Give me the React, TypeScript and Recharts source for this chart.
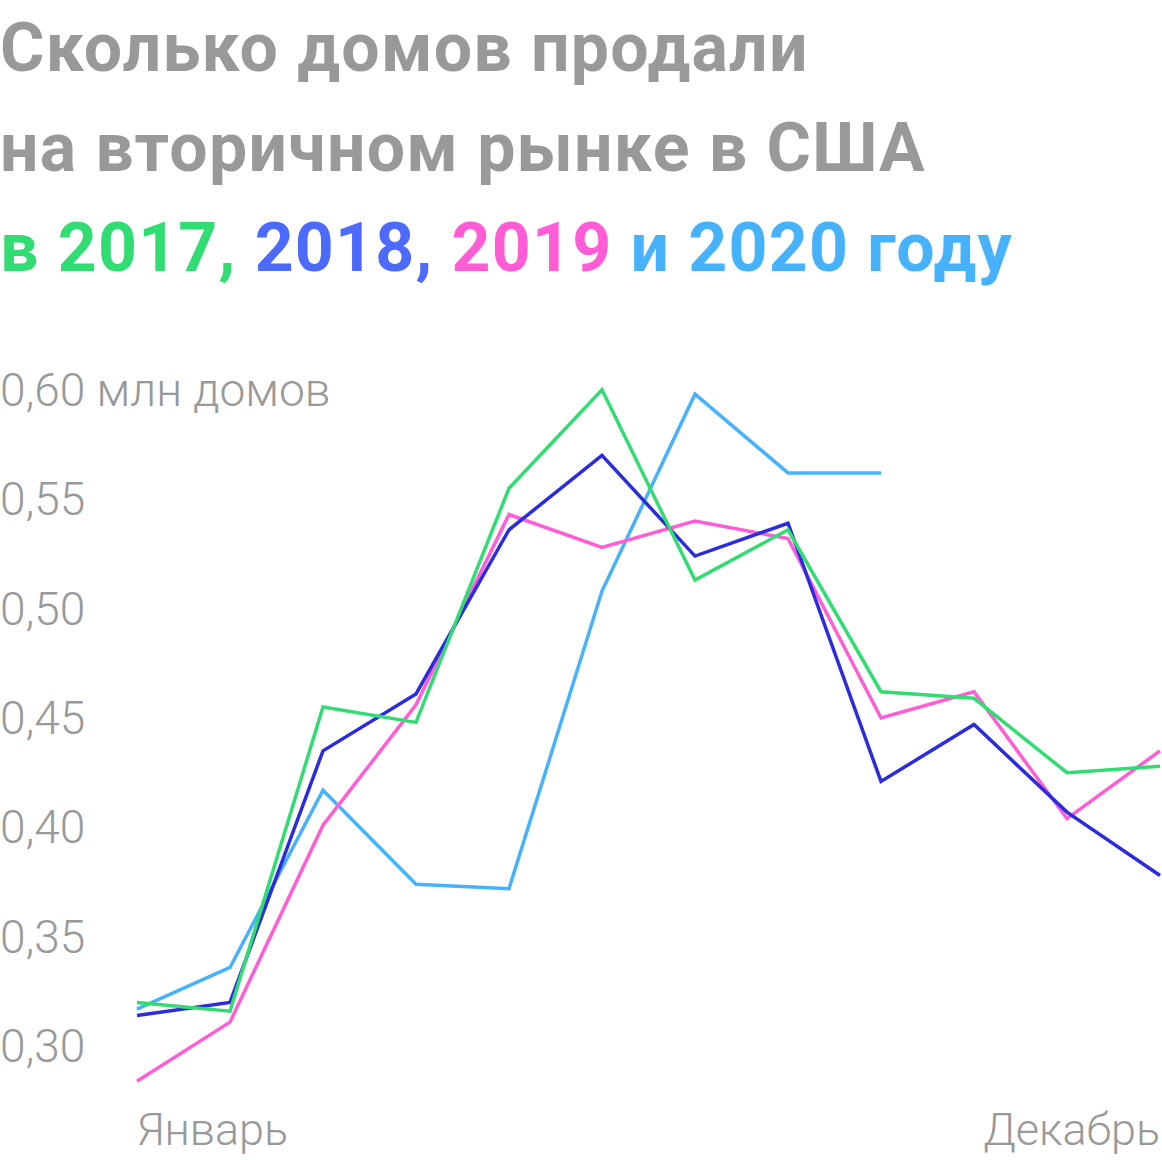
import React from "react";
import { Line, LineChart, XAxis, YAxis } from "recharts";

const MONTHS = [
  "Январь",
  "Февраль",
  "Март",
  "Апрель",
  "Май",
  "Июнь",
  "Июль",
  "Август",
  "Сентябрь",
  "Октябрь",
  "Ноябрь",
  "Декабрь",
];

// млн домов
const SALES_2017 = [0.32, 0.316, 0.455, 0.448, 0.555, 0.6, 0.513, 0.536, 0.462, 0.459, 0.425, 0.428];
const SALES_2018 = [0.314, 0.32, 0.435, 0.461, 0.536, 0.57, 0.524, 0.539, 0.421, 0.447, 0.407, 0.378];
const SALES_2019 = [0.284, 0.311, 0.401, 0.456, 0.543, 0.528, 0.54, 0.532, 0.45, 0.462, 0.404, 0.435];
const SALES_2020 = [0.317, 0.336, 0.417, 0.374, 0.372, 0.508, 0.598, 0.562, 0.562, null, null, null];

const Y_TICKS = [0.3, 0.35, 0.4, 0.45, 0.5, 0.55, 0.6];

const GREEN = "#31dd72";
const BLUE_TITLE = "#4d6afe";
const BLUE_LINE = "#2b2be0";
const PINK = "#ff5cd6";
const LIGHT_BLUE = "#47b2fc";
const GREY = "#999999";

const data = MONTHS.map((m, i) => ({
  month: m,
  y2017: SALES_2017[i],
  y2018: SALES_2018[i],
  y2019: SALES_2019[i],
  y2020: SALES_2020[i],
}));

const YTick = (props: any) => {
  const { y, payload } = props;
  const label = payload.value.toFixed(2).replace(".", ",");
  return (
    <text
      x={0}
      y={y}
      dy={16}
      textAnchor="start"
      fill={GREY}
      fontSize={46}
      fontWeight={300}
      fontFamily="Roboto, sans-serif"
    >
      {payload.value === 0.6 ? `${label} млн домов` : label}
    </text>
  );
};

const XTick = (props: any) => {
  const { x, index, payload } = props;
  if (index !== 0 && index !== MONTHS.length - 1) return null;
  return (
    <text
      x={x}
      y={1145}
      textAnchor={index === 0 ? "start" : "end"}
      fill={GREY}
      fontSize={45}
      fontWeight={300}
      fontFamily="Roboto, sans-serif"
    >
      {payload.value}
    </text>
  );
};

const titleLine: React.CSSProperties = {
  fontFamily: "Roboto, sans-serif",
  fontWeight: 700,
  fontSize: 68,
  lineHeight: "100px",
  letterSpacing: 1.2,
  whiteSpace: "nowrap",
};

export default function App() {
  return (
    <div
      style={{
        position: "absolute",
        left: 0,
        top: 0,
        width: 1162,
        height: 1160,
        background: "#fff",
        overflow: "hidden",
      }}
    >
      <div style={{ position: "absolute", left: 0, top: -2, color: GREY }}>
        <div style={titleLine}>Сколько домов продали</div>
        <div style={titleLine}>на вторичном рынке в США</div>
        <div style={titleLine}>
          <span style={{ color: GREEN }}>в 2017,</span>{" "}
          <span style={{ color: BLUE_TITLE }}>2018,</span>{" "}
          <span style={{ color: PINK }}>2019</span>{" "}
          <span style={{ color: LIGHT_BLUE }}>и 2020 году</span>
        </div>
      </div>
      <LineChart
        width={1162}
        height={1160}
        data={data}
        margin={{ top: 346, right: 2, left: 0, bottom: 0 }}
      >
        <XAxis
          dataKey="month"
          axisLine={false}
          tickLine={false}
          height={70}
          interval={0}
          tick={<XTick />}
        />
        <YAxis
          type="number"
          domain={[0.28, 0.62]}
          ticks={Y_TICKS}
          axisLine={false}
          tickLine={false}
          width={137}
          interval={0}
          tick={<YTick />}
        />
        <Line dataKey="y2020" stroke={LIGHT_BLUE} strokeWidth={3.5} dot={false} isAnimationActive={false} />
        <Line dataKey="y2019" stroke={PINK} strokeWidth={3.5} dot={false} isAnimationActive={false} />
        <Line dataKey="y2018" stroke={BLUE_LINE} strokeWidth={3.5} dot={false} isAnimationActive={false} />
        <Line dataKey="y2017" stroke={GREEN} strokeWidth={3.5} dot={false} isAnimationActive={false} />
      </LineChart>
    </div>
  );
}
